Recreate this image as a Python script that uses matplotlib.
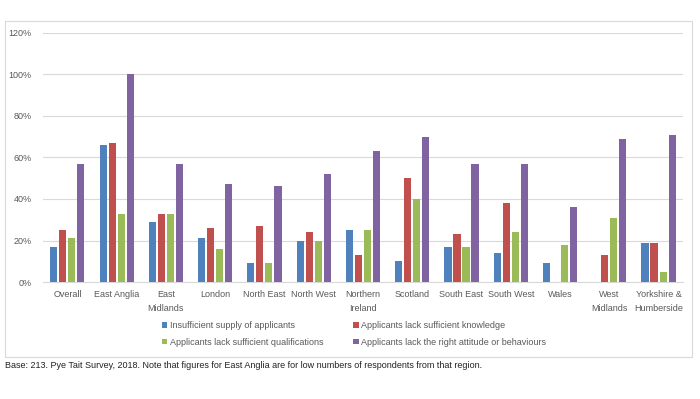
import matplotlib
matplotlib.use("Agg")
import matplotlib.pyplot as plt
import numpy as np
from matplotlib.patches import Rectangle

categories = ["Overall", "East Anglia", "East\nMidlands", "London", "North East", "North West",
              "Northern\nIreland", "Scotland", "South East", "South West", "Wales",
              "West\nMidlands", "Yorkshire &\nHumberside"]
supply = [17, 66, 29, 21, 9, 20, 25, 10, 17, 14, 9, 0, 19]
knowledge = [25, 67, 33, 26, 27, 24, 13, 50, 23, 38, 0, 13, 19]
qualifications = [21, 33, 33, 16, 9, 20, 25, 40, 17, 24, 18, 31, 5]
attitude = [57, 100, 57, 47, 46, 52, 63, 70, 57, 57, 36, 69, 71]
series_names = ["Insufficient supply of applicants", "Applicants lack sufficient knowledge",
                "Applicants lack sufficient qualifications", "Applicants lack the right attitude or behaviours"]
colors = ["#4F81BD", "#C0504D", "#9BBB59", "#8064A2"]
yticks = [0, 20, 40, 60, 80, 100, 120]
footnote = "Base: 213. Pye Tait Survey, 2018. Note that figures for East Anglia are for low numbers of respondents from that region."

plt.rcParams['font.family'] = ['Liberation Sans', 'DejaVu Sans']
fig = plt.figure(figsize=(7, 3.99), dpi=100)
ax = fig.add_axes([0.061, 0.293, 0.915, 0.625])

x = np.arange(len(categories))
data = [supply, knowledge, qualifications, attitude]
pitch = 0.183
width = 0.145
bars = []
for i, (vals, c) in enumerate(zip(data, colors)):
    b = ax.bar(x + (i - 1.5) * pitch, vals, width=width, color=c, label=series_names[i], zorder=3)
    bars.append(b)

ax.set_xlim(-0.5, len(categories) - 0.5)
ax.set_ylim(0, 120)
ax.set_yticks(yticks)
ax.set_yticklabels([f"{v}%" for v in yticks])
ax.set_xticks(x)
ax.set_xticklabels(categories, linespacing=1.6)
ax.grid(axis='y', color='#D9D9D9', linewidth=0.8, zorder=0)
for s in ['top', 'right', 'left']:
    ax.spines[s].set_visible(False)
ax.spines['bottom'].set_color('#D9D9D9')
ax.tick_params(axis='both', length=0, labelsize=6.5, colors='#595959')
ax.tick_params(axis='y', pad=8)
ax.tick_params(axis='x', pad=6)

handles = [bars[0], bars[2], bars[1], bars[3]]
labels = [series_names[0], series_names[2], series_names[1], series_names[3]]
leg = fig.legend(handles, labels, ncol=2, loc='center', bbox_to_anchor=(0.506, 0.163),
                 frameon=False, fontsize=6.5, handlelength=0.6, handleheight=0.6,
                 handletextpad=0.3, columnspacing=3.3, labelspacing=0.85)
for t in leg.get_texts():
    t.set_color('#595959')

fig.patches.append(Rectangle((5/700, 1-357/399), 687/700, 336/399, transform=fig.transFigure,
                             fill=False, edgecolor='#D9D9D9', linewidth=0.8))
fig.text(5/700, 1-366/399, footnote, fontsize=6.5, color='#222222', va='center', ha='left')

fig.savefig("out.png", dpi=100)
